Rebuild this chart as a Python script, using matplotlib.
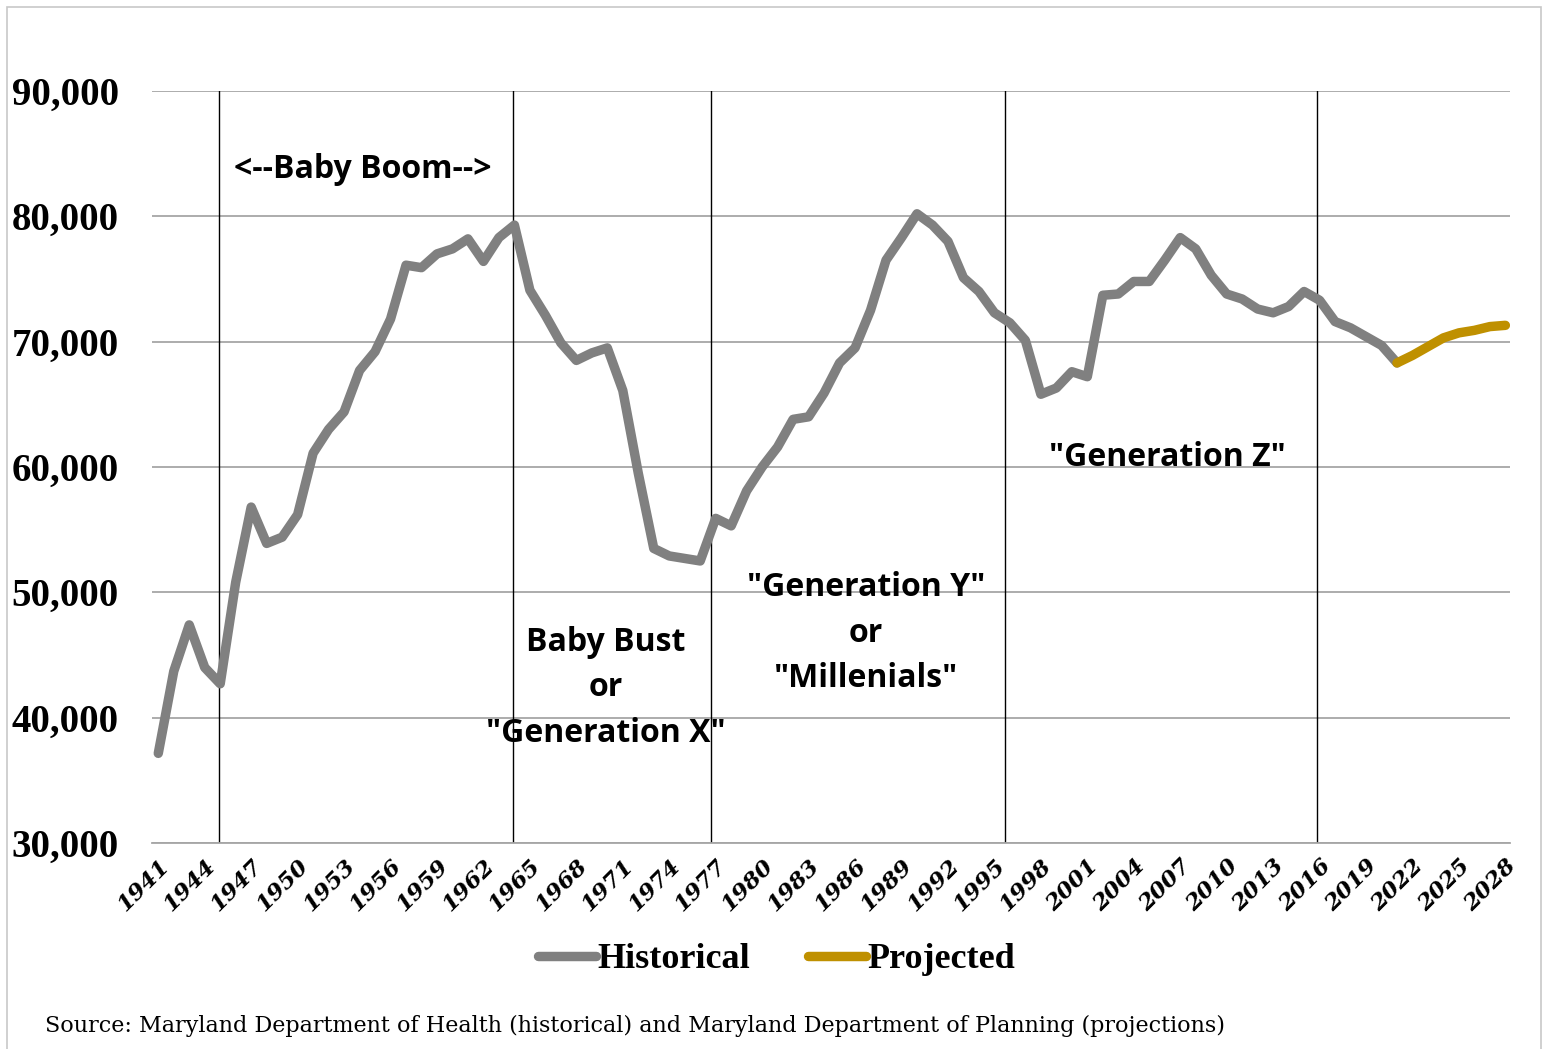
import matplotlib
matplotlib.use('Agg')
import matplotlib.pyplot as plt
from matplotlib.patches import Rectangle
from matplotlib.ticker import FuncFormatter

# births per year
hist_years = list(range(1941, 2022))
hist_births = [
    37150, 43700, 47400, 44000, 42700, 50800, 56800, 53900, 54400, 56200,
    61100, 63000, 64400, 67700, 69200, 71800, 76100, 75900, 77000, 77400,
    78200, 76400, 78300, 79300, 74100, 72100, 69900, 68500, 69100, 69500,
    66100, 59500, 53500, 52900, 52700, 52500, 55900, 55300, 58100, 60000,
    61600, 63800, 64000, 65900, 68300, 69500, 72500, 76500, 78300, 80200,
    79300, 78000, 75100, 74000, 72300, 71500, 70100, 65800, 66300, 67600,
    67200, 73700, 73800, 74800, 74800, 76500, 78300, 77400, 75300, 73800,
    73400, 72600, 72300, 72800, 74000, 73300, 71600, 71100, 70400, 69700,
    68300,
]
proj_years = list(range(2021, 2029))
proj_births = [68300, 68900, 69600, 70300, 70700, 70900, 71200, 71300]

tick_years = list(range(1941, 2029, 3))
divider_years = [1944.9, 1963.9, 1976.7, 1995.7, 2015.85]

fig = plt.figure(figsize=(15.44, 10.49), dpi=100)
ax = fig.add_axes([0.0985, 0.1964, 0.8795, 0.7169])

# outer chart border
fig.patches.append(Rectangle((0.0045, -0.01), 0.9935, 1.0033, transform=fig.transFigure,
                             fill=False, edgecolor='#c8c8c8', linewidth=1.2))

ax.set_ylim(30000, 90000)
ax.set_xlim(1940.6, 2028.3)
ax.set_yticks(range(30000, 90001, 10000))
ax.yaxis.set_major_formatter(FuncFormatter(lambda v, p: f'{int(v):,}'))
ax.grid(axis='y', color='#a6a6a6', linewidth=1.3)
ax.set_axisbelow(True)
for side in ['left', 'right', 'top']:
    ax.spines[side].set_visible(False)
ax.spines['bottom'].set_color('#a6a6a6')
ax.spines['bottom'].set_linewidth(1.3)
ax.tick_params(axis='both', length=0)
ax.tick_params(axis='y', pad=24)
for lab in ax.get_yticklabels():
    lab.set_fontfamily('Liberation Serif')
    lab.set_fontweight('bold')
    lab.set_fontsize(28)

ax.set_xticks(tick_years)
ax.set_xticklabels([str(y) for y in tick_years], rotation=45, ha='right',
                   rotation_mode='anchor', fontfamily='DejaVu Serif',
                   fontweight='bold', fontstyle='italic', fontsize=16.5)
ax.tick_params(axis='x', pad=9)

for x in divider_years:
    ax.axvline(x, color='black', linewidth=1.0, zorder=2)

h_line, = ax.plot(hist_years, hist_births, color='#808080', linewidth=6.8,
                  solid_joinstyle='round', solid_capstyle='round', label='Historical', zorder=3)
p_line, = ax.plot(proj_years, proj_births, color='#bf9000', linewidth=6.8,
                  solid_joinstyle='round', solid_capstyle='round', label='Projected', zorder=4)

note_font = dict(fontfamily='Open Sans', fontweight='bold', fontsize=23,
                 ha='center', va='center', linespacing=1.5, zorder=5)
ax.text(1954.2, 83700, '<--Baby Boom-->', **note_font)
ax.text(1969.9, 42400, 'Baby Bust\nor\n"Generation X"', **note_font)
ax.text(1986.7, 46750, '"Generation Y"\nor\n"Millenials"', **note_font)
ax.text(2006.2, 60750, '"Generation Z"', **note_font)

fig.legend(handles=[h_line, p_line], loc='center', bbox_to_anchor=(0.503, 0.085), ncol=2,
           frameon=False, handlelength=1.6, handletextpad=0.05,
           columnspacing=1.6,
           prop={'family': 'Liberation Serif', 'weight': 'bold', 'size': 26})

fig.text(0.029, 0.022, 'Source: Maryland Department of Health (historical) and Maryland '
         'Department of Planning (projections)', fontfamily='DejaVu Serif',
         fontsize=16, ha='left', va='center')

fig.savefig('out.png', dpi=100, facecolor='white')
